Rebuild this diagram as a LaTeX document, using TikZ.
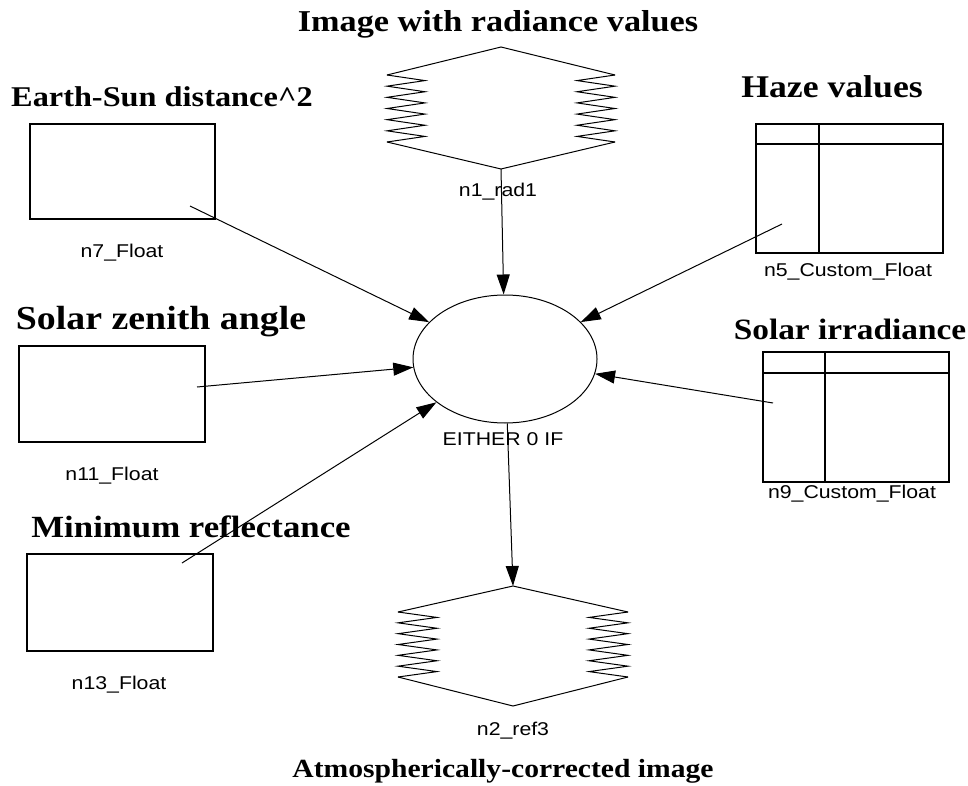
\documentclass[tikz,border=0pt]{standalone}
\usepackage{fontspec}
\setmainfont{Liberation Serif}
\newfontfamily\labfont{Liberation Sans}
\usetikzlibrary{shapes.geometric,arrows.meta}

% horizontally widened text, as the model editor renders it
\newcommand\widetxt[2]{\scalebox{#1}[1]{#2}}
% serrated side of a raster symbol: outer x, inner x, top y, bottom y
\newcommand\sawside[4]{%
  \draw[thinline] (#1,#3) \foreach \k in {1,...,6} {
     -- ({#2},{#3+(\k-0.5)*(#4-#3)/6}) -- ({#1},{#3+\k*(#4-#3)/6}) };}

\tikzset{
  x=1pt, y=-1pt,
  ttl/.style={font=\fontsize{#1}{#1}\selectfont\bfseries, anchor=base, inner sep=0pt},
  lab/.style={font=\labfont\fontsize{18.5}{22}\selectfont, anchor=base, inner sep=0pt},
  floatbox/.style={draw, line width=1.4pt, rectangle, inner sep=0pt},
  thinline/.style={line width=1pt},
  conn/.style={line width=1pt, -{Triangle[length=20pt,width=13pt]}},
}

\begin{document}
\begin{tikzpicture}
\useasboundingbox[fill=white] (0,0) rectangle (968,786);

% ---- titles ----
\node[ttl=30.3] (t1) at (498,32)  {\widetxt{1.13}{Image with radiance values}};
\node[ttl=28.6] (t7) at (162,107) {\widetxt{1.13}{Earth-Sun distance\textasciicircum 2}};
\node[ttl=31.6] (t5) at (832,98)  {\widetxt{1.13}{Haze values}};
\node[ttl=33.5] (t11) at (161,329) {\widetxt{1.13}{Solar zenith angle}};
\node[ttl=29.5] (t9) at (850,339) {\widetxt{1.13}{Solar irradiance}};
\node[ttl=30.8] (t13) at (191,537) {\widetxt{1.13}{Minimum reflectance}};
\node[ttl=26.2] (t2) at (503,777) {\widetxt{1.13}{Atmospherically-corrected image}};

% ---- float inputs ----
\node[floatbox, minimum width=185pt, minimum height=95pt] (n7) at (122.5,171.5) {};
\node[floatbox, minimum width=186pt, minimum height=96pt] (n11) at (112,394) {};
\node[floatbox, minimum width=186pt, minimum height=97pt] (n13) at (120,602.5) {};
\node[lab] (l7) at (122,258) {\widetxt{1.15}{n7\_Float}};
\node[lab] (l11) at (112,480) {\widetxt{1.15}{n11\_Float}};
\node[lab] (l13) at (119,689) {\widetxt{1.15}{n13\_Float}};

% ---- custom float tables ----
\node[floatbox, minimum width=187pt, minimum height=129pt] (n5) at (849.5,188.5) {};
\draw[line width=1.4pt] (756,144) -- (943,144) (819,124) -- (819,253);
\node[floatbox, minimum width=186pt, minimum height=130pt] (n9) at (856,417) {};
\draw[line width=1.4pt] (763,373) -- (949,373) (825,352) -- (825,482);
\node[lab] (l5) at (848,276) {\widetxt{1.15}{n5\_Custom\_Float}};
\node[lab] (l9) at (852,498) {\widetxt{1.15}{n9\_Custom\_Float}};

% ---- raster input n1 ----
\draw[thinline] (387,75) -- (501,47) -- (615,75);
\draw[thinline] (387,142) -- (501,169) -- (615,142);
\sawside{387}{425}{75}{142}
\sawside{615}{577}{75}{142}
\coordinate (n1) at (501,169);
\node[lab] (l1) at (498,197) {\widetxt{1.15}{n1\_rad1}};

% ---- raster output n2 ----
\draw[thinline] (398,612) -- (513,586) -- (628,612);
\draw[thinline] (398,677) -- (513,706) -- (628,677);
\sawside{398}{437}{612}{677}
\sawside{628}{589}{612}{677}
\coordinate (n2) at (513,586);
\node[lab] (l2) at (513,735) {\widetxt{1.15}{n2\_ref3}};

% ---- function node ----
\node[draw, ellipse, line width=1pt, inner sep=0pt,
      minimum width=184pt, minimum height=128pt] (c) at (505,359) {};
\node[lab] (lc) at (503,445) {\widetxt{1.15}{EITHER 0 IF}};

% ---- connector tails inside the symbols ----
\coordinate (s7) at (190,206);
\coordinate (s11) at (197,387);
\coordinate (s13) at (182,563);
\coordinate (s5) at (782,224);
\coordinate (s9) at (773,403);

% ---- connectors ----
\draw[conn] (n1) -- (c);
\draw[conn] (s7) -- (c);
\draw[conn] (s11) -- (c);
\draw[conn] (s13) -- (c);
\draw[conn] (s5) -- (c);
\draw[conn] (s9) -- (c);
\draw[conn] (c) -- (n2);
\end{tikzpicture}
\end{document}
